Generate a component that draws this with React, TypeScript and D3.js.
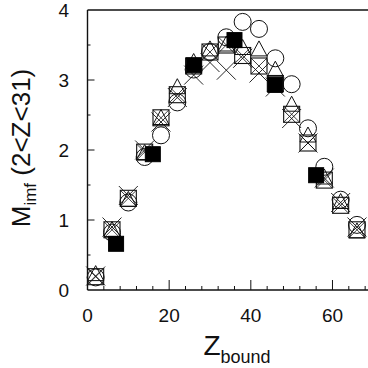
import * as d3 from "d3";

const W = 368;
const H = 368;
const FONT = "'Liberation Sans', Arial, Helvetica, sans-serif";
const INK = "#111";

// Z_bound bins for the open-marker series
const Z_OPEN = [2, 6, 10, 14, 18, 22, 26, 30, 34, 38, 42, 46, 50, 54, 58, 62, 66];

const CROSSED_SQUARE = [0.19, 0.86, 1.31, 1.97, 2.46, 2.79, 3.2, 3.4, 3.5, 3.35, 3.2, 2.95, 2.51, 2.1, 1.57, 1.21, 0.86];
const CIRCLE = [0.18, 0.82, 1.25, 1.9, 2.21, 2.68, 3.15, 3.4, 3.61, 3.83, 3.73, 3.31, 2.94, 2.31, 1.76, 1.29, 0.93];
const TRIANGLE = [0.22, 0.85, 1.28, 1.95, 2.45, 2.89, 3.25, 3.43, 3.5, 3.45, 3.43, 3.14, 2.64, 2.2, 1.6, 1.25, 0.83];
const CROSS = [0.2, 0.9, 1.35, 2.0, 2.4, 2.75, 3.07, 3.25, 3.14, 3.31, 3.1, 2.9, 2.45, 2.1, 1.6, 1.25, 0.9];

// filled squares use coarser bins
const Z_FILLED = [7, 16, 26, 36, 46, 56];
const FILLED_SQUARE = [0.66, 1.94, 3.21, 3.57, 2.93, 1.64];

const X_TICKS = [0, 20, 40, 60];
const Y_TICKS = [0, 1, 2, 3, 4];

const x = d3.scaleLinear().domain([0, 70]).range([87.5, 87.5 + 70 * 4.083]);
const y = d3.scaleLinear().domain([0, 4]).range([290, 10]);

const S = 8; // half size of markers

function Circles() {
  return (
    <g fill="none" stroke={INK} strokeWidth={1}>
      {CIRCLE.map((v, i) => (
        <circle key={i} cx={x(Z_OPEN[i])} cy={y(v)} r={8.5} />
      ))}
    </g>
  );
}

function Triangles() {
  return (
    <g fill="none" stroke={INK} strokeWidth={1}>
      {TRIANGLE.map((v, i) => {
        const cx = x(Z_OPEN[i]);
        const cy = y(v);
        return (
          <path
            key={i}
            d={`M${cx},${cy - 9}L${cx + 8},${cy + 6}L${cx - 8},${cy + 6}Z`}
          />
        );
      })}
    </g>
  );
}

function Crosses() {
  return (
    <g fill="none" stroke={INK} strokeWidth={0.9}>
      {CROSS.map((v, i) => {
        const cx = x(Z_OPEN[i]);
        const cy = y(v);
        const r = 9.5;
        return (
          <path
            key={i}
            d={`M${cx - r},${cy - r}L${cx + r},${cy + r}M${cx - r},${cy + r}L${cx + r},${cy - r}`}
          />
        );
      })}
    </g>
  );
}

function CrossedSquares() {
  return (
    <g fill="none" stroke={INK} strokeWidth={1.1}>
      {CROSSED_SQUARE.map((v, i) => {
        const cx = x(Z_OPEN[i]);
        const cy = y(v);
        return (
          <g key={i}>
            <rect x={cx - S} y={cy - S} width={2 * S} height={2 * S} />
            <path
              d={`M${cx - S},${cy - S}L${cx + S},${cy + S}M${cx - S},${cy + S}L${cx + S},${cy - S}`}
              strokeWidth={0.8}
            />
          </g>
        );
      })}
    </g>
  );
}

function FilledSquares() {
  return (
    <g fill="#000" stroke="#000">
      {FILLED_SQUARE.map((v, i) => (
        <rect
          key={i}
          x={x(Z_FILLED[i]) - 7.5}
          y={y(v) - 7.5}
          width={15}
          height={15}
        />
      ))}
    </g>
  );
}

function Axes() {
  const xMinor = d3.range(4, 70, 4);
  const yMinor = d3.range(0.5, 4, 0.5);
  return (
    <g stroke={INK} strokeWidth={1.4} fill="none">
      <line x1={x(0)} x2={x(0)} y1={y(4)} y2={y(0)} />
      <line x1={x(0)} x2={W} y1={y(4)} y2={y(4)} />
      <line x1={x(0)} x2={W} y1={y(0)} y2={y(0)} />
      {xMinor.map((t) => (
        <line
          key={"xm" + t}
          x1={x(t)}
          x2={x(t)}
          y1={y(0)}
          y2={y(0) - (t % 20 === 0 ? 10 : 4)}
          strokeWidth={1}
        />
      ))}
      {yMinor.map((t) => (
        <line
          key={"ym" + t}
          x1={x(0)}
          x2={x(0) + (t % 1 === 0 ? 7 : 3)}
          y1={y(t)}
          y2={y(t)}
          strokeWidth={1}
        />
      ))}
    </g>
  );
}

export default function App() {
  return (
    <svg
      width={W}
      height={H}
      style={{ position: "absolute", left: 0, top: 0, background: "#fff" }}
      fontFamily={FONT}
    >
      <rect width={W} height={H} fill="#fff" />
      <Axes />
      <Circles />
      <Triangles />
      <Crosses />
      <CrossedSquares />
      <FilledSquares />

      {X_TICKS.map((t) => (
        <text
          key={"xt" + t}
          x={x(t)}
          y={322}
          textAnchor="middle"
          fontSize={19}
          fill={INK}
        >
          {t}
        </text>
      ))}
      {Y_TICKS.map((t) => (
        <text
          key={"yt" + t}
          x={69}
          y={y(t)}
          dy="0.36em"
          textAnchor="end"
          fontSize={19}
          fill={INK}
        >
          {t}
        </text>
      ))}

      <text
        transform="translate(30,148) rotate(-90)"
        textAnchor="middle"
        fontSize={26}
        fill={INK}
      >
        M
        <tspan fontSize={17} dy={6}>
          imf
        </tspan>
        <tspan dy={-6}> (2&lt;Z&lt;31)</tspan>
      </text>

      <text x={237} y={355} textAnchor="middle" fontSize={28} fill={INK}>
        Z
        <tspan fontSize={18} dy={8}>
          bound
        </tspan>
      </text>
    </svg>
  );
}
